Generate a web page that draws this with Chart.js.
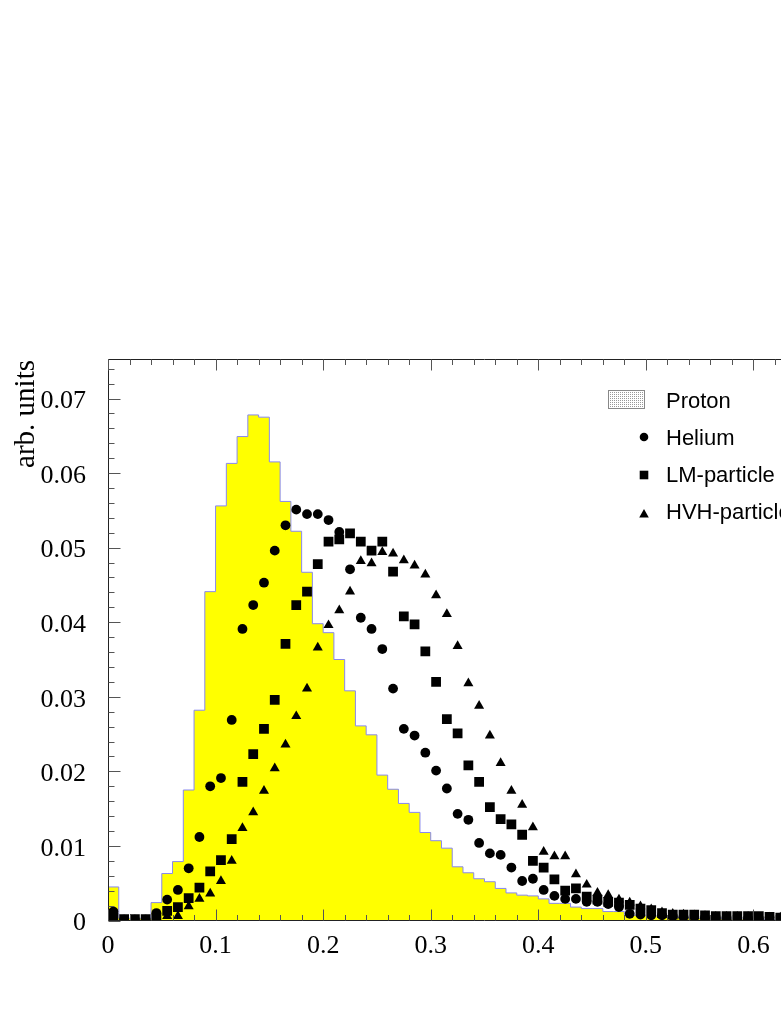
<!DOCTYPE html>
<html><head><meta charset="utf-8">
<script src="https://cdn.jsdelivr.net/npm/chart.js@4.4.0/dist/chart.umd.min.js"></script>
<style>
html,body{margin:0;padding:0;background:#fff;overflow:hidden;width:781px;height:1011px}
#wrap{position:absolute;left:0;top:0;width:900px;height:1011px}
</style></head><body>
<div id="wrap"><canvas id="c" width="900" height="1011"></canvas></div>
<script>
// ---- data ----
const binCenters = [0.005,0.015,0.025,0.035,0.045,0.055,0.065,0.075,0.085,0.095,
  0.105,0.115,0.125,0.135,0.145,0.155,0.165,0.175,0.185,0.195,
  0.205,0.215,0.225,0.235,0.245,0.255,0.265,0.275,0.285,0.295,
  0.305,0.315,0.325,0.335,0.345,0.355,0.365,0.375,0.385,0.395,
  0.405,0.415,0.425,0.435,0.445,0.455,0.465,0.475,0.485,0.495,
  0.505,0.515,0.525,0.535,0.545,0.555,0.565,0.575,0.585,0.595,
  0.605,0.615,0.625,0.635,0.645];
const protonValues = [0.0045,0.0003,0.0003,0.0003,0.0024,0.0063,0.0079,0.0175,0.0282,0.0441,
  0.0556,0.0613,0.0649,0.0678,0.0675,0.0615,0.0562,0.0522,0.0467,0.0398,
  0.0386,0.0350,0.0308,0.0261,0.0249,0.0195,0.0176,0.0157,0.0145,0.0118,
  0.0107,0.0097,0.0072,0.0064,0.0056,0.0052,0.0043,0.0037,0.0034,0.0033,
  0.0029,0.0023,0.0023,0.0018,0.0016,0.0016,0.0012,0.0012,0.0007,0.0007,
  0.0006,0.0006,0.0004,0.0004,0.0003,0.0003,0.0003,0.0002,0.0002,0.0002,
  0.0002,0.0001,0.0001,0.0001,0.0001];
const heliumValues = [0.0012,0.0001,0.0001,0.0001,0.0010,0.0028,0.0041,0.0070,0.0112,0.0180,
  0.0191,0.0269,0.0391,0.0423,0.0453,0.0496,0.0530,0.0551,0.0545,0.0545,
  0.0537,0.0521,0.0471,0.0406,0.0391,0.0364,0.0311,0.0257,0.0248,0.0225,
  0.0201,0.0177,0.0143,0.0135,0.0104,0.0090,0.0088,0.0071,0.0053,0.0056,
  0.0041,0.0033,0.0029,0.0029,0.0025,0.0025,0.0022,0.0018,0.0009,0.0008,
  0.0007,0.0007,0.0006,0.0005,0.0005,0.0004,0.0004,0.0004,0.0004,0.0003,
  0.0003,0.0004,0.0003,0.0002,0.0002];
const lmValues = [0.0004,0.0002,0.0002,0.0002,0.0004,0.0013,0.0018,0.0030,0.0044,0.0066,
  0.0081,0.0109,0.0186,0.0223,0.0257,0.0296,0.0371,0.0423,0.0441,0.0478,
  0.0508,0.0511,0.0519,0.0508,0.0496,0.0508,0.0468,0.0408,0.0397,0.0361,
  0.0320,0.0270,0.0251,0.0208,0.0186,0.0152,0.0136,0.0129,0.0115,0.0080,
  0.0071,0.0055,0.0040,0.0043,0.0032,0.0028,0.0025,0.0024,0.0021,0.0016,
  0.0014,0.0010,0.0008,0.0008,0.0008,0.0007,0.0006,0.0006,0.0006,0.0006,
  0.0006,0.0005,0.0004,0.0004,0.0003];
const hvhValues = [0,0,0,0,0.0001,0.0006,0.0006,0.0019,0.0029,0.0036,
  0.0053,0.0080,0.0124,0.0145,0.0174,0.0204,0.0236,0.0274,0.0311,0.0366,
  0.0396,0.0416,0.0441,0.0482,0.0479,0.0494,0.0492,0.0483,0.0476,0.0464,
  0.0436,0.0411,0.0368,0.0318,0.0288,0.0248,0.0211,0.0174,0.0155,0.0125,
  0.0092,0.0086,0.0086,0.0062,0.0048,0.0037,0.0034,0.0028,0.0024,0.0019,
  0.0015,0.0011,0.0009,0.0008,0.0007,0.0006,0.0005,0.0005,0.0005,0.0005,
  0.0004,0.0004,0.0004,0.0003,0.0003];
const seriesNames = ['Proton','Helium','LM-particle','HVH-particle'];
const yAxisTitle = 'arb. units';
const xRange = [0, 0.7];
const yRange = [0, 0.0753];
const xMajorStep = 0.1, xMinorStep = 0.02;
const yMajorStep = 0.01, yMinorStep = 0.002;

// ---- build datasets ----
const halfBin = (binCenters[1] - binCenters[0]) / 2;
const histPoints = binCenters.map((c, i) => ({x: c - halfBin, y: protonValues[i]}));
histPoints.push({x: binCenters[binCenters.length - 1] + halfBin, y: protonValues[protonValues.length - 1]});
const toPts = vals => binCenters.map((c, i) => ({x: c, y: vals[i]}));

const serif = '"Liberation Serif","Times New Roman",serif';
const sans = '"Liberation Sans",Arial,Helvetica,sans-serif';

function fmt(v, d) { return Math.abs(v) < 1e-9 ? '0' : v.toFixed(d); }

const decor = {
  id: 'decor',
  afterDatasetsDraw(chart) {
    const ctx = chart.ctx, a = chart.chartArea;
    const xs = chart.scales.x, ys = chart.scales.y;
    ctx.save();
    ctx.strokeStyle = '#222';
    ctx.lineWidth = 1;
    const L = Math.round(a.left) + 0.5, T = Math.round(a.top) + 0.5, B = Math.round(a.bottom) - 0.5, R = Math.round(a.right) - 0.5;
    ctx.beginPath();
    ctx.moveTo(L, B); ctx.lineTo(L, T); ctx.lineTo(R, T); ctx.lineTo(R, B); ctx.lineTo(L, B);
    ctx.stroke();
    // ticks
    ctx.strokeStyle = '#555';
    ctx.beginPath();
    const nx = Math.round((xRange[1] - xRange[0]) / xMinorStep);
    for (let i = 0; i <= nx; i++) {
      const v = xRange[0] + i * xMinorStep;
      const major = i % Math.round(xMajorStep / xMinorStep) === 0;
      const len = major ? 11 : 5.5;
      const px = Math.round(xs.getPixelForValue(v)) + 0.5;
      ctx.moveTo(px, B); ctx.lineTo(px, B - len);
      ctx.moveTo(px, T); ctx.lineTo(px, T + len);
    }
    const ny = Math.floor((yRange[1] - yRange[0]) / yMinorStep + 1e-6);
    for (let i = 0; i <= ny; i++) {
      const v = yRange[0] + i * yMinorStep;
      const major = i % Math.round(yMajorStep / yMinorStep) === 0;
      const len = major ? 12 : 6;
      const py = Math.round(ys.getPixelForValue(v)) + 0.5;
      ctx.moveTo(L, py); ctx.lineTo(L + len, py);
    }
    ctx.stroke();

    // y axis title
    ctx.fillStyle = '#000';
    ctx.font = '29px ' + serif;
    ctx.save();
    ctx.translate(34, a.top + 1);
    ctx.rotate(-Math.PI / 2);
    ctx.textAlign = 'right';
    ctx.textBaseline = 'alphabetic';
    ctx.fillText(yAxisTitle, 0, 0);
    ctx.restore();

    // legend
    const pc = document.createElement('canvas');
    pc.width = 2; pc.height = 2;
    const pctx = pc.getContext('2d');
    pctx.fillStyle = '#fff'; pctx.fillRect(0, 0, 2, 2);
    pctx.fillStyle = '#999'; pctx.fillRect(0, 0, 1, 1);
    ctx.fillStyle = ctx.createPattern(pc, 'repeat');
    ctx.fillRect(608, 390, 37, 19);
    ctx.strokeStyle = '#888';
    ctx.strokeRect(608.5, 390.5, 36, 18);
    ctx.fillStyle = '#000';
    ctx.font = '22px ' + sans;
    ctx.textAlign = 'left';
    ctx.textBaseline = 'alphabetic';
    const baselines = [407.5, 444.5, 481.5, 518.5];
    seriesNames.forEach((n, i) => ctx.fillText(n, 666, baselines[i]));
    const mx = 644;
    ctx.beginPath(); ctx.arc(mx, 437, 4.3, 0, Math.PI * 2); ctx.fill();
    ctx.fillRect(mx - 4.3, 475 - 4.3, 8.6, 8.6);
    ctx.beginPath();
    ctx.moveTo(mx, 509); ctx.lineTo(mx + 4.8, 517.5); ctx.lineTo(mx - 4.8, 517.5); ctx.closePath(); ctx.fill();
    ctx.restore();
  }
};

new Chart(document.getElementById('c'), {
  type: 'scatter',
  data: {
    datasets: [
      {label: seriesNames[1], data: toPts(heliumValues), pointStyle: 'circle', pointRadius: 4.9,
       backgroundColor: '#000', borderColor: '#000', borderWidth: 0, pointBorderWidth: 0, clip: 0, order: 1},
      {label: seriesNames[2], data: toPts(lmValues), pointStyle: 'rect', pointRadius: 6.9,
       backgroundColor: '#000', borderColor: '#000', borderWidth: 0, pointBorderWidth: 0, clip: 0, order: 2},
      {label: seriesNames[3], data: toPts(hvhValues), pointStyle: 'triangle', pointRadius: 5.8,
       backgroundColor: '#000', borderColor: '#000', borderWidth: 0, pointBorderWidth: 0, clip: 0, order: 3},
      {label: seriesNames[0], type: 'line', data: histPoints, stepped: 'before', showLine: true,
       fill: 'origin', backgroundColor: '#ffff00', borderColor: '#8888ee', borderWidth: 1,
       pointRadius: 0, clip: 0, order: 10}
    ]
  },
  options: {
    responsive: false,
    animation: false,
    layout: {padding: {left: 0, top: 359, right: 39, bottom: 0}},
    plugins: {legend: {display: false}, tooltip: {enabled: false}},
    scales: {
      x: {
        type: 'linear', min: xRange[0], max: xRange[1],
        afterFit: s => { s.height = 90.5; },
        grid: {display: false, drawTicks: false}, border: {display: false},
        ticks: {stepSize: xMajorStep, includeBounds: false, padding: 10, color: '#000', maxRotation: 0,
          font: {family: serif, size: 26}, callback: v => fmt(v, 1)}
      },
      y: {
        type: 'linear', min: yRange[0], max: yRange[1],
        afterFit: s => { s.width = 108; },
        grid: {display: false, drawTicks: false}, border: {display: false},
        ticks: {stepSize: yMajorStep, includeBounds: false, padding: 22, labelOffset: 3, color: '#000',
          font: {family: serif, size: 26},
          callback: v => (Math.abs(v / yMajorStep - Math.round(v / yMajorStep)) < 1e-6 ? fmt(v, 2) : '')}
      }
    }
  },
  plugins: [decor]
});
</script>
</body></html>
